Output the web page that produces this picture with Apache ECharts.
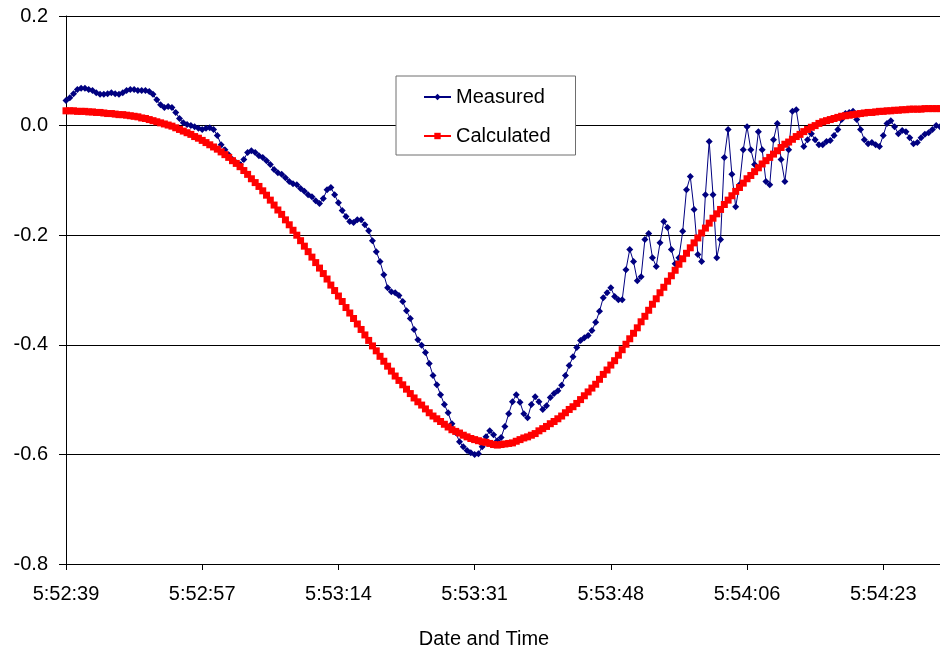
<!DOCTYPE html>
<html>
<head>
<meta charset="utf-8">
<script src="https://cdn.jsdelivr.net/npm/echarts@6/dist/echarts.min.js"></script>
<style>
html,body{margin:0;padding:0;background:#fff;}
#chart{width:940px;height:651px;}
</style>
</head>
<body>
<div id="chart"></div>
<script>
const tickLabels = ['5:52:39','5:52:57','5:53:14','5:53:31','5:53:48','5:54:06','5:54:23'];
const pointsPerLabel = 36;
const yTicks = { min: -0.8, max: 0.2, interval: 0.2 };

const measured = [
0.046,0.051,0.058,0.066,0.068,0.068,0.066,0.064,0.060,0.057,
0.057,0.058,0.060,0.058,0.057,0.060,0.064,0.066,0.066,0.064,
0.064,0.064,0.062,0.057,0.047,0.038,0.033,0.035,0.033,0.024,
0.013,0.005,0.002,0.000,-0.002,-0.005,-0.007,-0.005,-0.004,-0.007,
-0.018,-0.035,-0.044,-0.053,-0.062,-0.068,-0.071,-0.062,-0.049,-0.046,
-0.049,-0.055,-0.058,-0.064,-0.071,-0.080,-0.086,-0.089,-0.095,-0.102,
-0.106,-0.108,-0.115,-0.120,-0.126,-0.130,-0.137,-0.142,-0.133,-0.117,
-0.113,-0.126,-0.141,-0.155,-0.166,-0.175,-0.177,-0.172,-0.172,-0.181,
-0.192,-0.210,-0.230,-0.248,-0.272,-0.296,-0.303,-0.305,-0.310,-0.321,
-0.338,-0.352,-0.372,-0.391,-0.401,-0.414,-0.434,-0.456,-0.473,-0.491,
-0.509,-0.524,-0.544,-0.560,-0.577,-0.586,-0.593,-0.597,-0.600,-0.599,
-0.586,-0.568,-0.557,-0.564,-0.575,-0.569,-0.549,-0.526,-0.504,-0.491,
-0.505,-0.526,-0.533,-0.509,-0.495,-0.504,-0.518,-0.511,-0.496,-0.489,
-0.484,-0.474,-0.456,-0.438,-0.422,-0.405,-0.392,-0.387,-0.383,-0.374,
-0.359,-0.339,-0.314,-0.305,-0.296,-0.312,-0.318,-0.318,-0.263,-0.226,
-0.248,-0.283,-0.276,-0.208,-0.197,-0.241,-0.257,-0.214,-0.175,-0.186,
-0.226,-0.252,-0.241,-0.193,-0.117,-0.093,-0.153,-0.235,-0.248,-0.126,
-0.029,-0.126,-0.241,-0.208,-0.058,-0.007,-0.089,-0.148,-0.108,-0.044,
-0.002,-0.044,-0.071,-0.011,-0.044,-0.102,-0.108,-0.026,0.004,-0.062,
-0.102,-0.044,0.026,0.029,-0.016,-0.038,-0.026,-0.015,-0.026,-0.035,
-0.035,-0.029,-0.027,-0.018,-0.007,0.011,0.022,0.024,0.026,0.011,
-0.007,-0.026,-0.033,-0.031,-0.035,-0.038,-0.018,0.004,0.009,-0.002,
-0.015,-0.009,-0.011,-0.022,-0.033,-0.031,-0.022,-0.016,-0.013,-0.007,
0.000,-0.002
];

const calculated = [
0.027,0.027,0.027,0.026,0.026,0.026,0.025,0.025,0.024,0.024,
0.023,0.022,0.022,0.021,0.020,0.020,0.019,0.018,0.017,0.016,
0.014,0.013,0.011,0.009,0.007,0.005,0.003,0.001,-0.001,-0.004,
-0.007,-0.010,-0.013,-0.016,-0.020,-0.023,-0.027,-0.031,-0.035,-0.039,
-0.043,-0.048,-0.053,-0.058,-0.064,-0.069,-0.075,-0.082,-0.089,-0.097,
-0.104,-0.111,-0.119,-0.127,-0.136,-0.145,-0.154,-0.162,-0.172,-0.181,
-0.191,-0.200,-0.210,-0.220,-0.230,-0.240,-0.250,-0.260,-0.270,-0.280,
-0.291,-0.301,-0.311,-0.321,-0.332,-0.342,-0.352,-0.362,-0.372,-0.382,
-0.392,-0.402,-0.411,-0.421,-0.430,-0.439,-0.448,-0.457,-0.465,-0.473,
-0.481,-0.489,-0.497,-0.504,-0.510,-0.517,-0.524,-0.530,-0.535,-0.540,
-0.545,-0.550,-0.555,-0.558,-0.561,-0.565,-0.568,-0.571,-0.573,-0.575,
-0.577,-0.578,-0.580,-0.582,-0.583,-0.582,-0.581,-0.580,-0.579,-0.576,
-0.573,-0.570,-0.568,-0.565,-0.562,-0.557,-0.553,-0.549,-0.544,-0.540,
-0.535,-0.530,-0.524,-0.518,-0.513,-0.507,-0.500,-0.493,-0.486,-0.479,
-0.472,-0.463,-0.454,-0.446,-0.437,-0.429,-0.419,-0.409,-0.399,-0.389,
-0.379,-0.369,-0.358,-0.348,-0.337,-0.326,-0.316,-0.305,-0.295,-0.284,
-0.274,-0.264,-0.253,-0.243,-0.233,-0.223,-0.214,-0.205,-0.196,-0.187,
-0.178,-0.169,-0.161,-0.153,-0.144,-0.136,-0.128,-0.120,-0.113,-0.105,
-0.097,-0.091,-0.084,-0.077,-0.070,-0.064,-0.058,-0.052,-0.046,-0.040,
-0.034,-0.030,-0.025,-0.020,-0.016,-0.011,-0.007,-0.003,0.000,0.004,
0.007,0.009,0.011,0.013,0.015,0.017,0.018,0.019,0.020,0.021,
0.022,0.023,0.024,0.024,0.025,0.026,0.026,0.027,0.027,0.028,
0.028,0.029,0.029,0.030,0.030,0.030,0.030,0.031,0.031,0.031,
0.031,0.031
];

const categories = measured.map((_, i) => i);
const FONT = "'Liberation Sans', Arial, sans-serif";

const chart = echarts.init(document.getElementById('chart'), null, { renderer: 'canvas' });
chart.setOption({
  animation: false,
  backgroundColor: '#ffffff',
  textStyle: { fontFamily: FONT },
  grid: { left: 66, right: 0, top: 16, bottom: 87, containLabel: false, outerBoundsMode: 'none' },
  legend: {
    orient: 'vertical',
    left: 396,
    top: 76,
    padding: [11, 25, 9, 27],
    itemGap: 19,
    itemWidth: 27,
    itemHeight: 8,
    backgroundColor: '#ffffff',
    borderColor: '#6e6e6e',
    borderWidth: 1,
    textStyle: { fontFamily: FONT, fontSize: 20, color: '#000' },
    data: ['Measured', 'Calculated']
  },
  xAxis: {
    type: 'category',
    data: categories,
    boundaryGap: false,
    name: 'Date and Time',
    nameLocation: 'middle',
    nameGap: 65,
    nameTextStyle: { fontFamily: FONT, fontSize: 20, color: '#000', padding: [0, 38, 0, 0] },
    axisLine: { onZero: false, lineStyle: { color: '#000', width: 1 } },
    axisTick: { show: true, interval: pointsPerLabel - 1, length: 6, lineStyle: { color: '#000' } },
    axisLabel: {
      interval: pointsPerLabel - 1,
      margin: 20,
      fontFamily: FONT, fontSize: 20, color: '#000',
      formatter: (v, idx) => (idx % pointsPerLabel === 0 ? (tickLabels[idx / pointsPerLabel] || '') : '')
    },
    splitLine: { show: false }
  },
  yAxis: {
    type: 'value',
    min: yTicks.min,
    max: yTicks.max,
    interval: yTicks.interval,
    axisLine: { show: true, lineStyle: { color: '#000', width: 1 } },
    axisTick: { show: true, length: 7, lineStyle: { color: '#000' } },
    axisLabel: {
      margin: 18,
      fontFamily: FONT, fontSize: 20, color: '#000',
      formatter: v => (Math.abs(v) < 1e-9 ? 0 : v).toFixed(1)
    },
    splitLine: { show: true, lineStyle: { color: '#000', width: 1 } }
  },
  series: [
    {
      name: 'Measured',
      type: 'line',
      data: measured,
      color: '#000080',
      lineStyle: { color: '#000080', width: 1 },
      itemStyle: { color: '#000080' },
      symbol: 'diamond',
      symbolSize: 7,
      showAllSymbol: true,
      z: 2
    },
    {
      name: 'Calculated',
      type: 'line',
      data: calculated,
      color: '#ff0000',
      lineStyle: { color: '#ff0000', width: 1 },
      itemStyle: { color: '#ff0000' },
      symbol: 'rect',
      symbolSize: 7,
      showAllSymbol: true,
      z: 3
    }
  ]
});
</script>
</body>
</html>
